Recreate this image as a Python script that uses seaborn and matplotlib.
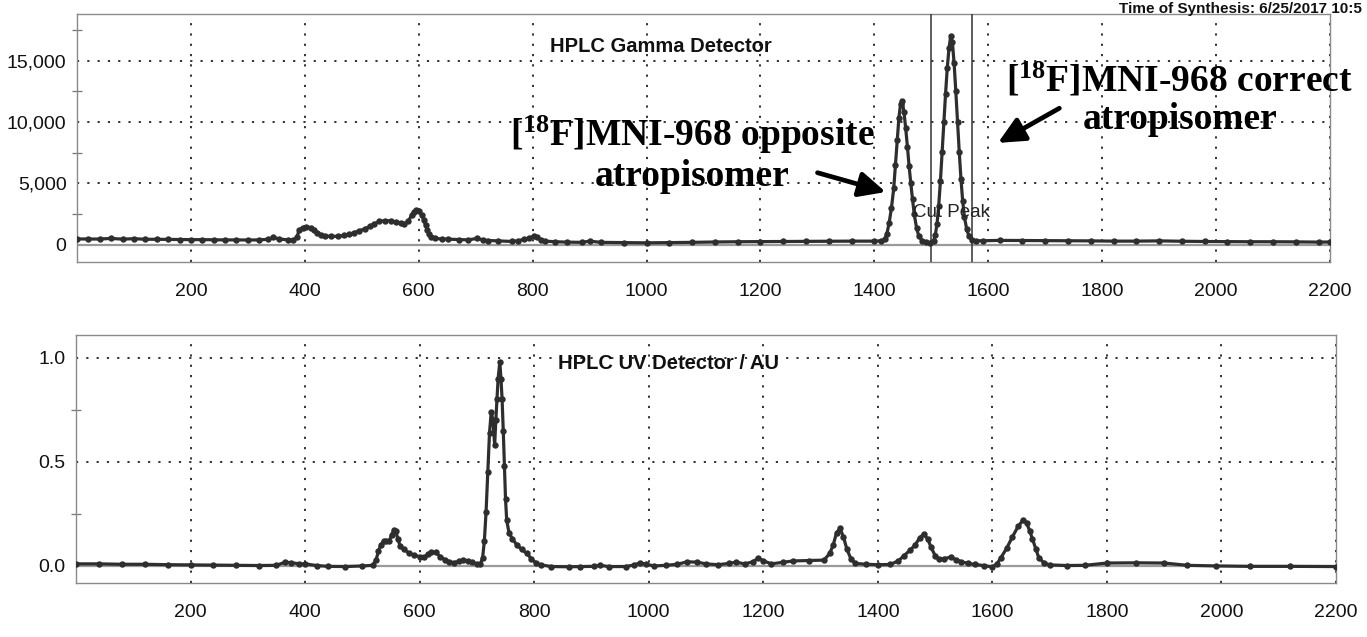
import matplotlib
matplotlib.use("Agg")
import matplotlib.pyplot as plt
import seaborn as sns
import pandas as pd
from matplotlib.ticker import MultipleLocator, FuncFormatter

# ---------------- data ----------------
gamma_time = [0, 20, 40, 60, 80, 100, 120, 140, 160, 180, 200, 220, 240, 260, 280, 300, 320,
              335, 345, 355, 370, 380, 386, 390, 396, 402, 410, 416, 422, 428, 436, 446, 458,
              469, 478, 487, 496, 505, 514, 522, 531, 540, 552, 560, 568, 575, 582, 588, 592,
              596, 600, 605, 609, 612, 615, 618, 622, 628, 640, 652, 670, 687, 702, 712, 722,
              740, 764, 775, 784, 793, 802, 808, 814, 822, 840, 860, 887, 900, 920, 960, 1000,
              1040, 1080, 1120, 1160, 1200, 1240, 1280, 1320, 1360, 1400, 1412,
              1418, 1422, 1426, 1430, 1434, 1437, 1440, 1443, 1446, 1449, 1452, 1455, 1458,
              1461, 1464, 1467, 1470, 1474, 1478, 1484, 1490, 1498,
              1504, 1507, 1510, 1513, 1516, 1519, 1522, 1525, 1528, 1531, 1534, 1537, 1540,
              1543, 1546, 1549, 1552, 1555, 1558, 1562, 1566, 1571, 1578,
              1590, 1620, 1660, 1700, 1740, 1780, 1820, 1860, 1900, 1940, 1980, 2020, 2060,
              2100, 2140, 2180, 2200]
gamma_counts = [480, 470, 470, 520, 460, 500, 450, 450, 440, 430, 420, 420, 410, 400, 400, 390, 400,
                450, 600, 480, 400, 390, 600, 1200, 1400, 1480, 1400, 1200, 1000, 820, 720, 680, 700,
                760, 850, 1000, 1150, 1300, 1500, 1720, 1900, 1970, 1950, 1850, 1800, 1700, 1950, 2450, 2700,
                2850, 2750, 2430, 2000, 1600, 1200, 900, 650, 520, 480, 460, 430, 400, 520, 420, 350,
                320, 270, 330, 450, 520, 720, 600, 420, 300, 250, 220, 200, 300, 200, 180, 160,
                180, 200, 230, 250, 260, 270, 280, 290, 300, 300, 320,
                450, 900, 1800, 3000, 4600, 6500, 8500, 10300, 11500, 11700, 10800, 9500, 8000,
                6400, 5000, 3700, 2500, 1400, 700, 350, 200, 180,
                350, 800, 1700, 3200, 5200, 7600, 10000, 12300, 14400, 16000, 17000, 16500, 14800,
                12500, 10000, 7600, 5400, 3600, 2300, 1300, 700, 400, 330,
                330, 360, 350, 340, 330, 320, 300, 300, 320, 290, 270, 260, 250,
                250, 240, 220, 230]

uv_time = [0, 40, 80, 120, 160, 200, 240, 280, 320, 350, 365, 375, 390, 400, 420, 440, 470, 500,
           518, 524, 528, 532, 537, 542, 547, 551, 555, 558, 562, 566, 572, 581, 590, 600, 608,
           614, 620, 628, 636, 644, 652, 660, 668, 676, 684, 692, 700, 706, 710, 713, 716, 719,
           722, 725, 728, 731, 733, 735, 737, 740, 742, 744, 746, 748, 750, 752, 756, 762, 770,
           778, 787, 795, 803, 812, 830, 860, 880, 905, 915, 930, 960, 975, 985, 995, 1010, 1030,
           1050, 1067, 1085, 1100, 1121, 1140, 1152, 1168, 1182, 1191, 1200, 1214, 1235, 1252,
           1280, 1306, 1316, 1322, 1328, 1334, 1340, 1346, 1353, 1361, 1380, 1400, 1422, 1436,
           1446, 1456, 1465, 1473, 1480, 1487, 1493, 1500, 1507, 1515, 1527, 1537, 1546, 1558,
           1569, 1585, 1600, 1608, 1615, 1625, 1635, 1645, 1654, 1660, 1665, 1670, 1676, 1681,
           1690, 1700, 1730, 1762, 1800, 1850, 1900, 1940, 1990, 2050, 2120, 2200]
uv_absorbance = [0.010, 0.010, 0.008, 0.008, 0.006, 0.005, 0.004, 0.003, 0.002, 0.003, 0.018, 0.016,
                 0.010, 0.010, 0.002, -0.002, -0.003, 0.000,
                 0.003, 0.030, 0.070, 0.100, 0.120, 0.118, 0.120, 0.150, 0.172, 0.170, 0.130, 0.095,
                 0.080, 0.063, 0.052, 0.045, 0.042,
                 0.055, 0.067, 0.065, 0.045, 0.030, 0.020, 0.016, 0.022, 0.028, 0.025, 0.018, 0.010,
                 0.008, 0.040, 0.120, 0.260, 0.450,
                 0.640, 0.740, 0.700, 0.580, 0.700, 0.800, 0.900, 0.980, 0.900, 0.800, 0.650, 0.480,
                 0.320, 0.220, 0.160, 0.130, 0.100,
                 0.080, 0.060, 0.035, 0.015, 0.005, -0.003, -0.004, -0.003, -0.002, 0.003, -0.003,
                 -0.003, 0.005, 0.015, 0.008, 0.000, 0.003,
                 0.008, 0.020, 0.018, 0.010, 0.006, 0.012, 0.018, 0.010, 0.020, 0.038, 0.025, 0.010,
                 0.018, 0.024,
                 0.026, 0.028, 0.060, 0.100, 0.160, 0.180, 0.140, 0.080, 0.035, 0.012, 0.008, 0.006,
                 0.007, 0.025,
                 0.050, 0.075, 0.100, 0.135, 0.153, 0.130, 0.090, 0.050, 0.032, 0.035, 0.042, 0.030,
                 0.020, 0.012,
                 0.007, 0.002, -0.005, 0.010, 0.040, 0.085, 0.140, 0.190, 0.222, 0.205, 0.170, 0.130,
                 0.080, 0.040,
                 0.015, 0.005, 0.002, 0.003, 0.014, 0.015, 0.014, 0.003, 0.000, -0.002, -0.002, -0.003]

x_ticks = [200, 400, 600, 800, 1000, 1200, 1400, 1600, 1800, 2000, 2200]
gamma_yticks = [0, 5000, 10000, 15000]
uv_yticks = [0.0, 0.5, 1.0]
cut_lines = [1500, 1572]

gamma_df = pd.DataFrame({"time": gamma_time, "counts": gamma_counts})
uv_df = pd.DataFrame({"time": uv_time, "au": uv_absorbance})

# ---------------- style ----------------
sns.set_theme(style="white")
plt.rcParams["font.family"] = ["Liberation Sans", "DejaVu Sans"]
plt.rcParams["mathtext.fontset"] = "custom"
plt.rcParams["mathtext.bf"] = "Liberation Serif:bold"
plt.rcParams["mathtext.rm"] = "Liberation Serif:bold"
plt.rcParams["mathtext.it"] = "Liberation Serif:bold"

W, H = 1367, 637
fig = plt.figure(figsize=(W / 100, H / 100), dpi=100)
fig.patch.set_facecolor("white")
ax1 = fig.add_axes([77 / W, 1 - 262 / H, (1330 - 77) / W, 248 / H])
ax2 = fig.add_axes([76 / W, 1 - 583 / H, (1336 - 76) / W, 248 / H])

trace_kw = dict(color="#2e2e2e", lw=2.3, marker="o", markersize=4.6,
                markeredgewidth=0, estimator=None, zorder=4)
sns.lineplot(data=gamma_df, x="time", y="counts", ax=ax1, **trace_kw)
sns.lineplot(data=uv_df, x="time", y="au", ax=ax2, **trace_kw)

grid_style = dict(ls=(0, (1.2, 4.5)), color="#222222", lw=1.3)
for ax in (ax1, ax2):
    ax.set_xlim(0, 2200)
    ax.set_xticks(x_ticks)
    ax.set_xticklabels([str(t) for t in x_ticks])
    ax.grid(True, which="major", **grid_style)
    ax.axhline(0, color="#9a9a9a", lw=1.6, zorder=2)
    ax.set_xlabel("")
    ax.set_ylabel("")
    for s in ax.spines.values():
        s.set_color("#8a8a8a")
        s.set_linewidth(1.0)
    ax.tick_params(axis="x", length=0, pad=15, labelsize=14, colors="#111111")
    ax.tick_params(axis="y", which="both", direction="inout", length=7, width=0.9,
                   color="#777777", pad=4, labelsize=14, labelcolor="#111111")
    ax.yaxis.set_tick_params(which="minor", left=True)

ax1.set_ylim(-1400, 18800)
ax1.set_yticks(gamma_yticks)
ax1.yaxis.set_major_formatter(FuncFormatter(lambda v, p: f"{int(v):,}"))
ax1.yaxis.set_minor_locator(MultipleLocator(2500))

ax2.set_ylim(-0.082, 1.11)
ax2.set_yticks(uv_yticks)
ax2.yaxis.set_major_formatter(FuncFormatter(lambda v, p: f"{v:.1f}"))
ax2.yaxis.set_minor_locator(MultipleLocator(0.25))

for xc in cut_lines:
    ax1.axvline(xc, color="#333333", lw=1.1, zorder=3)

ax1.text(1536, 2600, "Cut Peak", ha="center", va="center", fontsize=13.5, color="#222222", zorder=5)

ax1.text(0.466, 0.868, "HPLC Gamma Detector", transform=ax1.transAxes, ha="center",
         va="center", fontsize=14.5, fontweight="bold", color="#111111")
ax2.text(0.470, 0.887, "HPLC UV Detector / AU", transform=ax2.transAxes, ha="center",
         va="center", fontsize=14.5, fontweight="bold", color="#111111")

serif = dict(family="Liberation Serif", fontweight="bold", fontsize=27, color="black",
             ha="center", va="center", multialignment="center", linespacing=1.1, zorder=6)
ax1.text(0.491, 0.436, "[$^{\\mathbf{18}}$F]MNI-968 opposite\natropisomer",
         transform=ax1.transAxes, **serif)
ax1.text(0.880, 0.656, "[$^{\\mathbf{18}}$F]MNI-968 correct\natropisomer",
         transform=ax1.transAxes, **serif)

arrow_kw = dict(arrowstyle="-|>,head_length=0.8,head_width=0.38", lw=3.4, color="black",
                mutation_scale=20, shrinkA=0, shrinkB=0)
ax1.annotate("", xy=(1420, 4300), xycoords="data", xytext=(0.591, 0.36),
             textcoords="axes fraction", arrowprops=arrow_kw, zorder=6)
ax1.annotate("", xy=(1617, 8300), xycoords="data", xytext=(0.784, 0.62),
             textcoords="axes fraction", arrowprops=arrow_kw, zorder=6)

fig.text(1362 / W, 1 - 13 / H, "Time of Synthesis: 6/25/2017 10:5", ha="right", va="baseline",
         fontsize=11, fontweight="bold", color="#111111")

fig.savefig("out.png", dpi=100, facecolor="white")
